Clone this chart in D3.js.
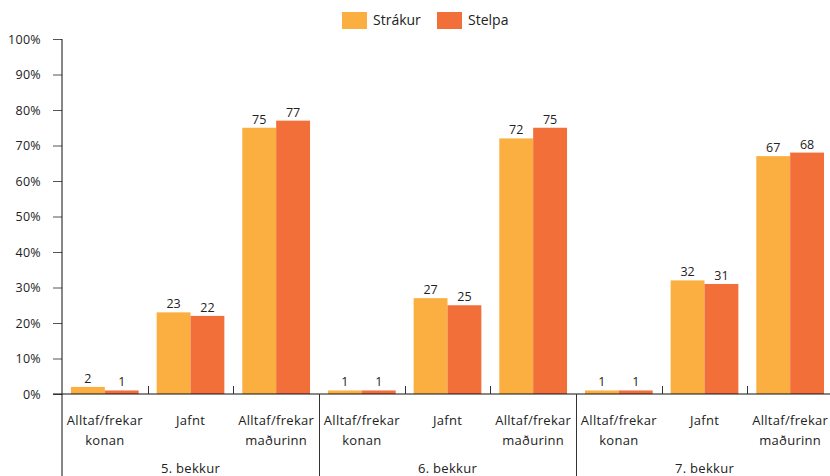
<!DOCTYPE html>
<html><head><meta charset="utf-8">
<script src="https://cdn.jsdelivr.net/npm/d3@7"></script>
<style>body{margin:0;background:#fff}svg{display:block;font-family:"Open Sans",sans-serif}</style>
</head><body><svg id="c" width="830" height="476"></svg>
<script>
const groups = ["5. bekkur","6. bekkur","7. bekkur"];
const categories = ["Alltaf/frekar\nkonan","Jafnt","Alltaf/frekar\nmaðurinn"];
const series = ["Strákur","Stelpa"];
const colors = ["#FBAF41","#F26F3A"];
const strakur = [[2,23,75],[1,27,72],[1,32,67]];
const stelpa = [[1,22,77],[1,25,75],[1,31,68]];
const yTicks = [0,10,20,30,40,50,60,70,80,90,100];

const svg = d3.select("#c");
const L = 62, R = 833, T = 39, B = 394;
const keys = [];
groups.forEach((g,gi)=>categories.forEach((c,ci)=>keys.push(gi+"|"+ci)));
const x = d3.scaleBand().domain(keys).range([L,R]).paddingInner(0).paddingOuter(0);
const xs = d3.scaleBand().domain(series).range([0,x.bandwidth()]).paddingOuter(0.265).paddingInner(0);
const y = d3.scaleLinear().domain([0,100]).range([B,T]);

// y axis
const ya = svg.append("g").attr("transform",`translate(${L},0)`)
  .call(d3.axisLeft(y).tickValues(yTicks).tickFormat(d=>d+"%").tickSize(9).tickPadding(12));
ya.select(".domain").remove();
ya.selectAll(".tick line").attr("stroke","#555");
ya.selectAll(".tick text").attr("font-size",12.5).attr("fill","#222").attr("font-family","Open Sans").attr("letter-spacing","0.3px");

// bars
const data = [];
groups.forEach((g,gi)=>categories.forEach((c,ci)=>{
  data.push({k:gi+"|"+ci,s:0,v:strakur[gi][ci]});
  data.push({k:gi+"|"+ci,s:1,v:stelpa[gi][ci]});
}));
svg.append("g").selectAll("rect").data(data).join("rect")
  .attr("x",d=>x(d.k)+xs(series[d.s]))
  .attr("width",xs.bandwidth())
  .attr("y",d=>y(d.v)).attr("height",d=>B-y(d.v))
  .attr("fill",d=>colors[d.s]);
svg.append("g").selectAll("text").data(data).join("text")
  .attr("x",d=>x(d.k)+xs(series[d.s])+xs.bandwidth()/2)
  .attr("y",d=>y(d.v)-4)
  .attr("text-anchor","middle").attr("font-size",12.5).attr("fill","#222")
  .text(d=>d.v);

// axis lines
svg.append("line").attr("x1",L).attr("x2",L).attr("y1",T).attr("y2",476).attr("stroke","#111");
svg.append("line").attr("x1",L-9).attr("x2",R).attr("y1",B).attr("y2",B).attr("stroke","#111");

// category ticks and separators
keys.forEach((k,i)=>{
  if(i===0) return;
  const xx = Math.round(x(k))+0.5;
  const isGroup = i%categories.length===0;
  svg.append("line").attr("x1",xx).attr("x2",xx).attr("y1",isGroup?B:B-8).attr("y2",isGroup?476:B)
    .attr("stroke","#333");
});
// category labels
keys.forEach((k,i)=>{
  const lines = categories[i%categories.length].split("\n");
  const t = svg.append("text").attr("text-anchor","middle").attr("font-size",13).attr("fill","#222")
    .attr("letter-spacing","0.3px").attr("x",x(k)+x.bandwidth()/2);
  lines.forEach((ln,li)=>t.append("tspan").attr("x",x(k)+x.bandwidth()/2).attr("y",425+li*20).text(ln));
});
groups.forEach((g,gi)=>{
  const x0 = x(gi+"|0"), x1 = x(gi+"|2")+x.bandwidth();
  svg.append("text").attr("x",(x0+x1)/2).attr("y",473).attr("text-anchor","middle")
    .attr("font-size",13).attr("letter-spacing","0.3px").attr("fill","#222").text(g);
});

// legend
const lg = svg.append("g");
const lx = [342,437];
series.forEach((s,i)=>{
  lg.append("rect").attr("x",lx[i]).attr("y",12).attr("width",25).attr("height",17).attr("fill",colors[i]);
  lg.append("text").attr("x",lx[i]+31).attr("y",25).attr("font-size",14).attr("fill","#222").text(s);
});
</script></body></html>
